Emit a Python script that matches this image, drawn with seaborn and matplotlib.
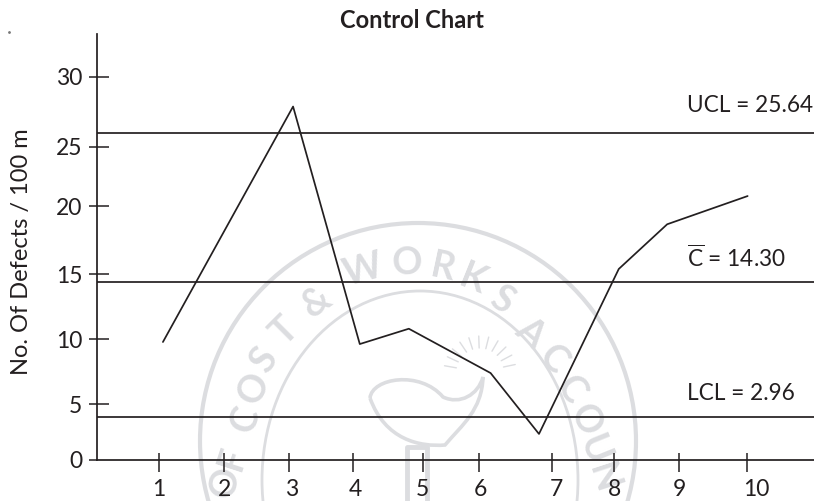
import matplotlib
matplotlib.use('Agg')
import matplotlib.pyplot as plt
import matplotlib.patches as mpatches
from matplotlib.path import Path
from matplotlib.transforms import ScaledTranslation
import numpy as np
import pandas as pd
import seaborn as sns

# Valores
muestra = [1.06, 3.05, 4.07, 4.82, 6.07, 6.81, 8.03, 8.77, 10.0]
defectos = [9.24, 27.68, 9.08, 10.28, 6.81, 2.04, 14.96, 18.46, 20.67]

# Los ticks del original no estan bien espaciados
pos_x = [1.0, 2.0, 2.99, 3.97, 5.03, 5.9, 7.01, 7.95, 8.95, 9.99]
etiquetas_x = ['1', '2', '3', '4', '5', '6', '7', '8', '9', '10']
pos_y = [0, 4.38, 9.45, 14.56, 19.88, 24.55, 30]
etiquetas_y = ['0', '5', '10', '15', '20', '25', '30']

lineas = [25.57, 13.94, 3.4]
textos_lineas = ['UCL = 25.64', r'$\overline{\mathrm{C}}$ = 14.30', 'LCL = 2.96']

# Marca de agua (sello)
sello_letras = list('OFCOST&WORKSACCOUN')
sello_px = [(225, 482), (233, 458), (245, 420), (254, 388), (264, 360), (285, 331), (316, 302),
            (363, 270), (407, 263), (443, 268), (473, 280), (502, 300), (530, 333), (553, 360),
            (571, 390), (585, 420), (594, 450), (603, 478)]
sello_rot = [80, 72, 70, 62, 55, 45, 35, 15, 3, -12, -22, -32, -40, -47, -55, -62, -68, -72]

sns.set_style('white')
plt.rcParams['font.family'] = ['Lato', 'DejaVu Sans']
plt.rcParams['mathtext.fontset'] = 'custom'
plt.rcParams['mathtext.rm'] = 'Lato'

negro = '#231f20'
gris = '#dcdde0'

fig = plt.figure(figsize=(8.14, 5.01), dpi=100)

# Fondo con el sello, en pixeles
fondo = fig.add_axes([0, 0, 1, 1], zorder=0)
fondo.set_xlim(0, 814)
fondo.set_ylim(501, 0)
fondo.axis('off')
fondo.add_patch(mpatches.Circle((418, 441), 218, fill=False, ec=gris, lw=3))
fondo.add_patch(mpatches.Ellipse((420, 480), 316, 378, fill=False, ec=gris, lw=2))
for letra, (px, py), rot in zip(sello_letras, sello_px, sello_rot):
    fondo.text(px, py, letra, color=gris, fontsize=27, fontweight='bold',
               ha='center', va='center', rotation=rot)

# Lampara del sello
lampara = Path([(370, 398), (372, 378), (420, 370), (443, 397), (460, 405), (478, 395), (483, 377),
                (482, 410), (462, 425), (445, 445), (420, 447), (385, 440), (370, 398)],
               [Path.MOVETO, Path.CURVE4, Path.CURVE4, Path.CURVE4, Path.CURVE4, Path.CURVE4,
                Path.CURVE4, Path.CURVE4, Path.CURVE4, Path.CURVE4, Path.CURVE4, Path.CURVE4, Path.CURVE4])
fondo.add_patch(mpatches.PathPatch(lampara, fill=False, ec=gris, lw=2.6))
fondo.plot([407, 407, 427, 427], [501, 447, 447, 501], color=gris, lw=3.5)
for ang in np.radians([190, 205, 220, 236, 252, 268, 284, 300, 316, 332, 348]):
    fondo.plot([480 + 24 * np.cos(ang), 480 + 36 * np.cos(ang)],
               [372 + 24 * np.sin(ang), 372 + 36 * np.sin(ang)], color=gris, lw=1)
fondo.plot([9], [32], marker='o', ms=1, color='#777777')

ax = fig.add_axes([97 / 814, 41 / 501, 717 / 814, 426 / 501], zorder=1)
ax.patch.set_alpha(0)

df = pd.DataFrame({'muestra': muestra, 'defectos': defectos})
sns.lineplot(data=df, x='muestra', y='defectos', sort=False, estimator=None,
             color=negro, lw=1.25, ax=ax)
for valor in lineas:
    ax.axhline(valor, color=negro, lw=1.25)

ax.set_xlim(0.052, 11.015)
ax.set_ylim(0, 33.36)

ax.xaxis.remove_overlapping_locs = False
ax.yaxis.remove_overlapping_locs = False
ax.set_xticks(pos_x, etiquetas_x)
ax.set_xticks(pos_x, minor=True)
ax.set_yticks(pos_y, etiquetas_y)
ax.set_yticks(pos_y[1:], minor=True)
ax.tick_params(axis='x', which='major', direction='out', length=8.5, width=1.1, color=negro,
               labelsize=16.5, labelcolor=negro, pad=5, bottom=True)
ax.tick_params(axis='x', which='minor', direction='in', length=5, width=1.1, color=negro, bottom=True)
ax.tick_params(axis='y', which='major', direction='out', length=5.5, width=1.1, color=negro,
               labelsize=16.5, labelcolor=negro, pad=5, left=True)
ax.tick_params(axis='y', which='minor', direction='in', length=8.5, width=1.1, color=negro, left=True)

# Algunas etiquetas del eje x estan corridas respecto a su tick
corrimientos = [0, 0, 2.5, 2.5, 0, 1, 4, 1, 0, 9]
for etq, dx in zip(ax.get_xticklabels(), corrimientos):
    etq.set_transform(etq.get_transform() + ScaledTranslation(dx / 100, 0, fig.dpi_scale_trans))

sns.despine(ax=ax)
for lado in ['left', 'bottom']:
    ax.spines[lado].set_color(negro)
    ax.spines[lado].set_linewidth(1.25)

ax.set_xlabel('')
ax.set_ylabel('')
fig.text(22 / 814, 1 - 252 / 501, 'No. Of Defects / 100 m', rotation=90, fontsize=17,
         color=negro, ha='center', va='center')
fig.text(412 / 814, 1 - 20 / 501, 'Control Chart', fontsize=17, fontweight='bold',
         color=negro, ha='center', va='center')

for texto, py in zip(textos_lineas, [105, 258, 393]):
    fig.text(687 / 814, 1 - py / 501, texto, fontsize=16.3, color=negro, ha='left', va='center')

fig.savefig('out.png', dpi=100)
